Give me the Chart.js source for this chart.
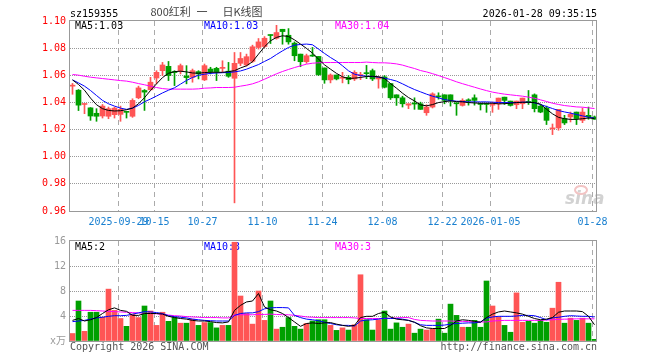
<!DOCTYPE html>
<html>
<head>
<meta charset="utf-8">
<script src="https://cdn.jsdelivr.net/npm/chart.js@4.4.1/dist/chart.umd.min.js"></script>
<style>
body { margin: 0; background: #fff; }
#wrap { position: relative; width: 660px; height: 360px; }
canvas { position: absolute; left: 0; }
</style>
</head>
<body>
<div id="wrap">
  <canvas id="kline" width="660" height="230" style="top:0"></canvas>
  <canvas id="vol" width="660" height="130" style="top:230px"></canvas>
</div>
<script>
// trading days shown (88 bars)
const dates = [
  '09-17','09-18','09-19','09-22','09-23','09-24','09-25','09-26','09-29','09-30',
  '10-09','10-10','10-13','10-14','10-15','10-16','10-17','10-20','10-21','10-22',
  '10-23','10-24','10-27','10-28','10-29','10-30','10-31','11-03','11-04','11-05',
  '11-06','11-07','11-10','11-11','11-12','11-13','11-14','11-17','11-18','11-19',
  '11-20','11-21','11-24','11-25','11-26','11-27','11-28','12-01','12-02','12-03',
  '12-04','12-05','12-08','12-09','12-10','12-11','12-12','12-15','12-16','12-17',
  '12-18','12-19','12-22','12-23','12-24','12-25','12-26','12-29','12-30','12-31',
  '01-05','01-06','01-07','01-08','01-09','01-12','01-13','01-14','01-15','01-16',
  '01-19','01-20','01-21','01-22','01-23','01-26','01-27','01-28'
];

const open = [
  1.0520,1.0490,1.0385,1.0360,1.0320,1.0300,1.0298,1.0310,1.0312,1.0332,
  1.0298,1.0434,1.0488,1.0493,1.0580,1.0634,1.0666,1.0625,1.0634,1.0595,
  1.0585,1.0627,1.0566,1.0646,1.0651,1.0651,1.0630,1.0578,1.0688,1.0676,
  1.0703,1.0805,1.0812,1.0898,1.0873,1.0939,1.0895,1.0837,1.0756,1.0700,
  1.0746,1.0739,1.0654,1.0566,1.0602,1.0578,1.0585,1.0573,1.0598,1.0617,
  1.0634,1.0573,1.0588,1.0539,1.0456,1.0434,1.0380,1.0393,1.0390,1.0324,
  1.0366,1.0446,1.0456,1.0456,1.0393,1.0378,1.0417,1.0434,1.0388,1.0388,
  1.0380,1.0390,1.0439,1.0410,1.0383,1.0390,1.0407,1.0456,1.0373,1.0359,
  1.0205,1.0212,1.0281,1.0293,1.0329,1.0268,1.0305,1.0293
];
const close = [
  1.0525,1.0380,1.0390,1.0300,1.0298,1.0373,1.0354,1.0358,1.0349,1.0327,
  1.0415,1.0507,1.0476,1.0549,1.0622,1.0676,1.0598,1.0620,1.0671,1.0583,
  1.0634,1.0610,1.0671,1.0627,1.0627,1.0656,1.0593,1.0688,1.0724,1.0737,
  1.0810,1.0846,1.0873,1.0893,1.0915,1.0922,1.0846,1.0744,1.0700,1.0744,
  1.0741,1.0605,1.0566,1.0602,1.0573,1.0585,1.0568,1.0622,1.0605,1.0612,
  1.0573,1.0588,1.0512,1.0434,1.0434,1.0390,1.0390,1.0388,1.0349,1.0366,
  1.0463,1.0441,1.0415,1.0415,1.0390,1.0415,1.0412,1.0415,1.0385,1.0385,
  1.0388,1.0432,1.0415,1.0378,1.0410,1.0432,1.0398,1.0354,1.0329,1.0268,
  1.0210,1.0349,1.0249,1.0312,1.0281,1.0329,1.0293,1.0276
];
const high = [
  1.0540,1.0495,1.0390,1.0362,1.0354,1.0385,1.0366,1.0366,1.0373,1.0332,
  1.0427,1.0520,1.0495,1.0585,1.0634,1.0695,1.0702,1.0634,1.0683,1.0671,
  1.0646,1.0634,1.0683,1.0659,1.0659,1.0707,1.0695,1.0768,1.0768,1.0756,
  1.0822,1.0871,1.0885,1.0898,1.0968,1.0939,1.0944,1.0846,1.0756,1.0756,
  1.0805,1.0739,1.0654,1.0610,1.0602,1.0622,1.0598,1.0634,1.0622,1.0673,
  1.0646,1.0588,1.0598,1.0539,1.0456,1.0446,1.0390,1.0434,1.0402,1.0383,
  1.0471,1.0471,1.0456,1.0456,1.0395,1.0427,1.0427,1.0456,1.0393,1.0393,
  1.0402,1.0432,1.0439,1.0410,1.0410,1.0432,1.0488,1.0463,1.0383,1.0373,
  1.0241,1.0349,1.0305,1.0329,1.0329,1.0359,1.0366,1.0300
];
const low = [
  1.0460,1.0340,1.0317,1.0268,1.0261,1.0285,1.0280,1.0285,1.0261,1.0285,
  1.0290,1.0427,1.0341,1.0490,1.0537,1.0598,1.0561,1.0524,1.0610,1.0537,
  1.0549,1.0573,1.0561,1.0610,1.0561,1.0622,1.0585,0.9660,1.0671,1.0668,
  1.0695,1.0793,1.0805,1.0834,1.0866,1.0829,1.0829,1.0707,1.0663,1.0688,
  1.0739,1.0598,1.0541,1.0544,1.0566,1.0544,1.0537,1.0561,1.0568,1.0575,
  1.0561,1.0505,1.0507,1.0422,1.0378,1.0366,1.0354,1.0349,1.0349,1.0305,
  1.0359,1.0424,1.0390,1.0373,1.0305,1.0373,1.0380,1.0380,1.0344,1.0327,
  1.0327,1.0349,1.0385,1.0373,1.0354,1.0354,1.0385,1.0330,1.0324,1.0237,
  1.0163,1.0195,1.0237,1.0256,1.0237,1.0251,1.0276,1.0276
];

const ma5 = [
  1.0566,1.0532,1.0490,1.0432,1.0383,1.0354,1.0341,1.0337,1.0339,1.0346,
  1.0358,1.0390,1.0435,1.0488,1.0537,1.0583,1.0615,1.0627,1.0630,1.0625,
  1.0617,1.0615,1.0620,1.0622,1.0622,1.0622,1.0627,1.0634,1.0654,1.0670,
  1.0700,1.0756,1.0810,1.0854,1.0879,1.0891,1.0886,1.0861,1.0830,1.0798,
  1.0763,1.0719,1.0677,1.0645,1.0614,1.0589,1.0576,1.0579,1.0584,1.0591,
  1.0593,1.0589,1.0576,1.0539,1.0505,1.0468,1.0436,1.0411,1.0382,1.0375,
  1.0384,1.0399,1.0406,1.0411,1.0406,1.0404,1.0399,1.0396,1.0394,1.0394,
  1.0394,1.0389,1.0391,1.0394,1.0399,1.0401,1.0401,1.0399,1.0387,1.0350,
  1.0316,1.0290,1.0280,1.0275,1.0275,1.0280,1.0285,1.0282
];
const ma10 = [
  1.0566,1.0544,1.0520,1.0488,1.0451,1.0415,1.0390,1.0373,1.0358,1.0349,
  1.0358,1.0378,1.0405,1.0425,1.0447,1.0470,1.0490,1.0508,1.0535,1.0562,
  1.0584,1.0600,1.0608,1.0614,1.0617,1.0619,1.0621,1.0625,1.0632,1.0645,
  1.0662,1.0679,1.0702,1.0724,1.0753,1.0780,1.0805,1.0822,1.0827,1.0830,
  1.0825,1.0793,1.0761,1.0731,1.0704,1.0670,1.0633,1.0608,1.0598,1.0593,
  1.0591,1.0586,1.0579,1.0569,1.0557,1.0537,1.0515,1.0495,1.0478,1.0461,
  1.0446,1.0434,1.0421,1.0414,1.0409,1.0407,1.0404,1.0404,1.0404,1.0404,
  1.0402,1.0399,1.0399,1.0399,1.0399,1.0402,1.0402,1.0397,1.0385,1.0370,
  1.0355,1.0340,1.0330,1.0321,1.0311,1.0301,1.0291,1.0284
];
const ma30 = [
  1.0606,1.0601,1.0593,1.0586,1.0581,1.0576,1.0571,1.0566,1.0561,1.0557,
  1.0549,1.0539,1.0530,1.0520,1.0510,1.0502,1.0498,1.0498,1.0498,1.0498,
  1.0498,1.0500,1.0505,1.0507,1.0510,1.0510,1.0510,1.0512,1.0520,1.0527,
  1.0537,1.0552,1.0571,1.0591,1.0611,1.0628,1.0643,1.0657,1.0670,1.0682,
  1.0689,1.0692,1.0694,1.0694,1.0694,1.0694,1.0694,1.0694,1.0694,1.0697,
  1.0694,1.0692,1.0692,1.0689,1.0684,1.0675,1.0662,1.0650,1.0635,1.0625,
  1.0612,1.0598,1.0583,1.0568,1.0552,1.0538,1.0525,1.0512,1.0499,1.0487,
  1.0476,1.0468,1.0461,1.0456,1.0451,1.0446,1.0439,1.0431,1.0419,1.0407,
  1.0394,1.0385,1.0377,1.0372,1.0367,1.0365,1.0360,1.0355
];

// volume, x10k
const volume = [
  1.2,6.4,1.55,4.6,4.6,3.8,8.3,4.9,3.6,2.35,
  4.3,3.75,5.6,4.8,2.5,4.6,3.15,3.75,2.85,2.85,
  3.5,2.5,2.95,2.95,2.1,2.5,2.5,15.8,7.2,4.4,
  2.7,8.0,3.3,6.4,1.9,2.2,3.75,2.35,1.9,2.8,
  3.2,3.4,3.4,2.5,1.7,2.1,1.75,2.6,10.6,3.4,
  1.75,3.4,4.8,1.9,2.9,2.2,2.7,1.25,1.9,1.75,
  1.9,3.5,1.25,5.9,4.1,2.2,2.2,3.3,2.2,9.6,
  5.6,3.8,2.5,1.4,7.7,3.0,3.15,2.85,3.3,3.0,
  5.25,9.4,2.85,3.65,3.3,3.65,2.85,0.27
];
const vma5 = [
  3.3,3.6,3.2,3.4,3.75,4.4,5.0,5.3,4.9,4.75,
  4.1,4.1,4.4,4.4,4.4,4.3,3.95,3.75,3.6,3.5,
  3.3,3.2,3.2,3.1,2.95,2.9,3.05,4.9,5.7,6.25,
  6.4,7.6,5.45,5.0,4.8,4.4,3.75,3.05,2.35,2.8,
  2.9,2.8,2.9,2.95,2.7,2.5,2.35,2.5,3.75,3.95,
  3.95,4.4,4.6,3.85,3.5,3.4,3.3,3.0,2.45,2.1,
  2.0,2.0,2.0,2.5,3.2,3.4,3.3,3.15,3.0,3.75,
  4.3,4.65,4.8,4.65,4.5,4.3,3.95,3.6,3.4,3.5,
  3.75,4.6,4.8,4.8,4.8,4.7,3.95,2.6
];
const vma10 = [
  3.1,3.2,3.3,3.5,3.7,3.8,3.95,4.05,4.05,4.1,
  4.3,4.5,4.7,4.65,4.55,4.4,4.05,3.9,3.8,3.7,
  3.5,3.4,3.3,3.25,3.2,3.2,3.2,4.1,4.4,4.5,
  4.5,4.7,5.15,5.3,5.35,5.35,5.3,4.1,3.75,3.5,
  3.4,3.25,3.0,2.8,2.6,2.5,2.5,2.4,3.2,3.35,
  3.4,3.5,3.65,3.6,3.6,3.5,3.3,3.0,2.6,2.5,
  2.5,2.5,2.55,2.7,2.8,2.85,2.9,2.9,3.05,3.65,
  3.85,3.95,3.95,3.95,4.0,4.1,4.1,4.05,3.75,3.4,
  3.7,3.8,3.95,4.05,4.0,3.95,3.95,3.85
];
const vma30 = [
  4.9,4.9,4.9,4.9,4.85,4.8,4.75,4.7,4.65,4.6,
  4.55,4.5,4.45,4.4,4.35,4.25,4.15,4.05,4.0,3.9,
  3.85,3.8,3.75,3.75,3.75,3.7,3.7,4.15,4.2,4.2,
  4.2,4.25,4.25,4.3,4.25,4.2,4.2,4.1,4.0,3.85,
  3.8,3.75,3.75,3.75,3.75,3.75,3.75,3.7,3.6,3.6,
  3.6,3.6,3.6,3.65,3.7,3.75,3.75,3.45,3.3,3.25,
  3.2,3.2,3.2,3.2,3.15,3.15,3.1,3.05,3.05,3.05,
  3.2,3.25,3.3,3.3,3.3,3.3,3.3,3.3,3.3,3.35,
  3.4,3.45,3.5,3.5,3.55,3.55,3.55,3.55
];

const tickIdx = [8, 14, 22, 32, 42, 52, 62, 70, 87];
const tickText = ['2025-09-29', '10-15', '10-27', '11-10', '11-24', '12-08', '12-22', '2026-01-05', '01-28'];
const priceTicks = [0.96, 0.98, 1.00, 1.02, 1.04, 1.06, 1.08, 1.10];
const volTicks = [0, 4, 8, 12, 16];

const MONO = '"DejaVu Sans Mono", "Noto Sans CJK SC", monospace';
const CJK = '"Noto Sans CJK SC", sans-serif';
const UP = '#ff5555';
const DOWN = '#00a000';

const candleColor = close.map((c, i) => c >= open[i] ? UP : DOWN);
const pts = arr => arr.map((v, i) => ({ x: i, y: v }));

// bar i centred at pixel 72.5 + 6*i inside a 527px wide plot
const xMin = -2.5 / 6;
const xMax = 527 / 6 - 2.5 / 6;

function xAxis(showLabels) {
  return {
    type: 'linear', min: xMin, max: xMax, offset: false,
    afterBuildTicks: s => { s.ticks = tickIdx.map(i => ({ value: i - 1 / 3 })); },
    afterFit: s => { s.height = showLabels ? 19 : 0; },
    ticks: {
      display: showLabels, autoSkip: false, maxRotation: 0, padding: 5,
      color: '#1a80d0', font: { family: MONO, size: 10 },
      callback: (v, k) => tickText[k]
    },
    grid: { offset: false, color: '#aaa', drawTicks: false },
    border: { display: false, dash: [5, 4] }
  };
}

function yAxis(ticks, color, fmt) {
  return {
    min: ticks[0], max: ticks[ticks.length - 1], beginAtZero: false,
    afterBuildTicks: s => { s.ticks = ticks.map(v => ({ value: v })); },
    afterFit: s => { s.width = 70; },
    ticks: { color: color, font: { family: MONO, size: 10 }, padding: 4, callback: fmt },
    grid: {
      drawTicks: false,
      color: c => (c.index === 0 || c.index === ticks.length - 1) ? 'rgba(0,0,0,0)' : '#999'
    },
    border: { display: false, dash: [1, 1] }
  };
}

function maLines(a, b, c) {
  const base = { type: 'line', borderWidth: 1, pointRadius: 0, tension: 0, order: 0 };
  return [
    Object.assign({ label: 'MA5', data: pts(a), borderColor: '#000' }, base),
    Object.assign({ label: 'MA10', data: pts(b), borderColor: '#0000ff' }, base),
    Object.assign({ label: 'MA30', data: pts(c), borderColor: '#ff00ff' }, base)
  ];
}

function frameBox(chart) {
  const { ctx, chartArea: a } = chart;
  ctx.save();
  ctx.strokeStyle = '#999';
  ctx.lineWidth = 1;
  ctx.strokeRect(a.left - 0.5, a.top - 0.5, a.right - a.left, a.bottom - a.top + 1);
  ctx.restore();
}

function legendText(ctx, y, items) {
  ctx.font = '10px ' + MONO;
  ctx.textAlign = 'left';
  ctx.textBaseline = 'alphabetic';
  items.forEach(it => { ctx.fillStyle = it[2]; ctx.fillText(it[0], it[1], y); });
}

const klineDeco = {
  id: 'klineDeco',
  beforeDatasetsDraw(chart) {
    const ctx = chart.ctx;
    ctx.save();
    legendText(ctx, 29, [['MA5:1.03', 75, '#000'], ['MA10:1.03', 204, '#0000ff'], ['MA30:1.04', 335, '#ff00ff']]);
    // sina watermark
    ctx.font = 'italic bold 17px "DejaVu Sans", sans-serif';
    ctx.fillStyle = '#d2d2d2';
    ctx.fillText('sina', 565, 204);
    ctx.strokeStyle = '#f2c4c4';
    ctx.lineWidth = 2;
    ctx.beginPath();
    ctx.ellipse(581, 190, 6, 4, 0, 0, Math.PI * 2);
    ctx.stroke();
    ctx.restore();
  },
  afterDatasetsDraw(chart) { frameBox(chart); },
  afterDraw(chart) {
    const ctx = chart.ctx;
    ctx.save();
    ctx.textBaseline = 'alphabetic';
    ctx.font = '10px ' + MONO;
    ctx.fillStyle = '#000';
    ctx.textAlign = 'left';
    ctx.fillText('sz159355', 70, 16.5);
    ctx.textAlign = 'right';
    ctx.fillText('2026-01-28 09:35:15', 597, 16.5);
    ctx.textAlign = 'left';
    ctx.font = '11px ' + CJK;
    ctx.fillStyle = '#444';
    ctx.fillText('800红利', 150.5, 16);
    ctx.fillText('一', 196.5, 16);
    ctx.fillText('日K线图', 222.5, 16);
    ctx.restore();
  }
};

const volDeco = {
  id: 'volDeco',
  beforeDatasetsDraw(chart) {
    const ctx = chart.ctx;
    ctx.save();
    legendText(ctx, 20, [['MA5:2', 75, '#000'], ['MA10:3', 204, '#0000ff'], ['MA30:3', 335, '#ff00ff']]);
    ctx.restore();
  },
  afterDatasetsDraw(chart) { frameBox(chart); },
  afterDraw(chart) {
    const ctx = chart.ctx;
    ctx.save();
    ctx.font = '10px ' + MONO;
    ctx.fillStyle = '#555';
    ctx.textBaseline = 'alphabetic';
    ctx.textAlign = 'left';
    ctx.fillText('Copyright 2026 SINA.COM', 70, 119.5);
    ctx.textAlign = 'right';
    ctx.fillText('http://finance.sina.com.cn', 597, 119.5);
    ctx.restore();
  }
};

const common = {
  responsive: false,
  animation: false,
  events: [],
  plugins: { legend: { display: false }, tooltip: { enabled: false } }
};

new Chart(document.getElementById('kline'), {
  type: 'bar',
  data: {
    datasets: maLines(ma5, ma10, ma30).concat([
      {
        label: 'wick', order: 2, grouped: false, barThickness: 1,
        data: dates.map((d, i) => ({ x: i, y: [low[i], high[i]] })),
        backgroundColor: candleColor
      },
      {
        label: 'body', order: 1, grouped: false, barThickness: 5, minBarLength: 1,
        data: dates.map((d, i) => ({ x: i, y: [open[i], close[i]] })),
        backgroundColor: candleColor
      }
    ])
  },
  options: Object.assign({}, common, {
    layout: { padding: { left: 0, right: 63, top: 21, bottom: 0 } },
    scales: {
      x: xAxis(true),
      y: yAxis(priceTicks, '#ff0000', v => v.toFixed(2))
    }
  }),
  plugins: [klineDeco]
});

new Chart(document.getElementById('vol'), {
  type: 'bar',
  data: {
    datasets: maLines(vma5, vma10, vma30).concat([
      {
        label: 'volume', order: 1, grouped: false, barThickness: 5,
        data: pts(volume),
        backgroundColor: candleColor
      }
    ])
  },
  options: Object.assign({}, common, {
    layout: { padding: { left: 0, right: 63, top: 11, bottom: 19 } },
    scales: {
      x: xAxis(false),
      y: yAxis(volTicks, '#999', v => v === 0 ? 'x万' : String(v))
    }
  }),
  plugins: [volDeco]
});
</script>
</body>
</html>
